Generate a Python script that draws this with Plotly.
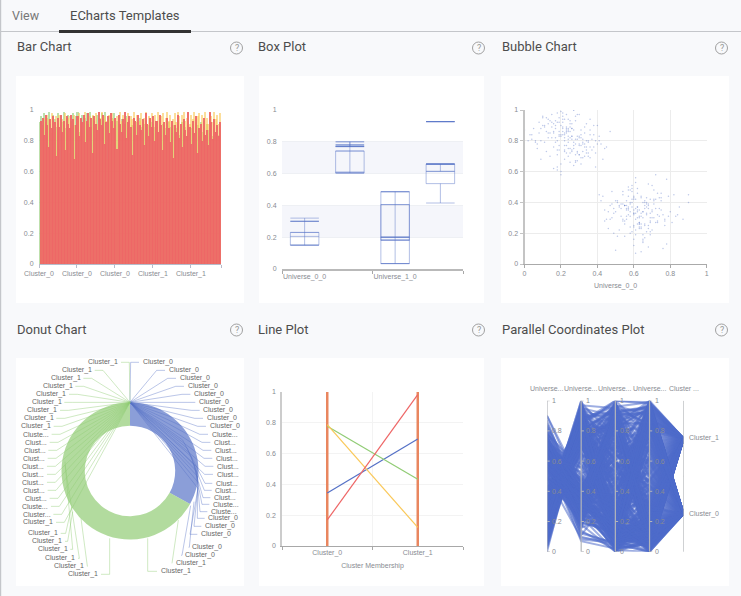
import plotly.graph_objects as go

W, H = 741, 596

# bar chart, sampled along the x axis
bar_labels = ["Cluster_0", "Cluster_0", "Cluster_0", "Cluster_1", "Cluster_1", ""]
bar_red = [0.00, 0.93, 0.95, 0.84, 0.97, 0.90, 0.76, 0.94, 0.88, 0.96, 0.92, 0.70, 0.95, 0.89, 0.97, 0.86, 0.93, 0.74, 0.96, 0.91,
           0.88, 0.97, 0.94, 0.68, 0.90, 0.96, 0.83, 0.95, 0.92, 0.97, 0.79, 0.93, 0.98, 0.89, 0.95, 0.72, 0.96, 0.91, 0.87, 0.99,
           0.94, 0.90, 0.97, 0.78, 0.92, 0.96, 0.85, 0.98, 0.93, 0.88, 0.95, 0.75, 0.97, 0.91, 0.86, 0.94, 0.99, 0.82, 0.92, 0.96,
           0.89, 0.71, 0.95, 0.93, 0.84, 0.97, 0.90, 0.87, 0.94, 0.77, 0.98, 0.91, 0.83, 0.95, 0.89, 0.96, 0.80, 0.93, 0.86, 0.97,
           0.90, 0.74, 0.92, 0.84, 0.95, 0.88, 0.79, 0.93, 0.69, 0.90, 0.86, 0.97, 0.82, 0.91, 0.76, 0.94, 0.87, 0.83, 0.99, 0.89,
           0.78, 0.93, 0.85, 0.96, 0.72, 0.88, 0.91, 0.80, 0.95, 0.84, 0.87, 0.77, 0.99, 0.92, 0.81, 0.94, 0.86, 0.90, 0.83, 0.92]
bar_yellow = [0.00, 0.90, 0.88, 0.95, 0.92, 0.97, 0.94, 0.89, 0.98, 0.93, 0.86, 0.96, 0.91, 0.97, 0.66, 0.94, 0.90, 0.98, 0.87, 0.95,
              0.96, 0.92, 0.89, 0.97, 0.70, 0.93, 0.98, 0.90, 0.85, 0.95, 0.99, 0.92, 0.88, 0.96, 0.74, 0.97, 0.93, 0.98, 0.91, 0.86,
              0.95, 0.99, 0.89, 0.96, 0.93, 0.68, 0.97, 0.92, 0.98, 0.94, 0.90, 0.96, 0.86, 0.99, 0.93, 0.97, 0.91, 0.95, 0.98, 0.88,
              0.96, 0.94, 0.99, 0.90, 0.97, 0.84, 0.93, 0.98, 0.92, 0.95, 0.99, 0.87, 0.96, 0.94, 0.98, 0.91, 0.97, 0.89, 0.99, 0.93,
              0.96, 0.98, 0.90, 0.95, 0.99, 0.93, 0.97, 0.88, 0.94, 0.98, 0.92, 0.99, 0.96, 0.90, 0.97, 0.99, 0.93, 0.95, 0.98, 0.91,
              0.97, 0.94, 0.99, 0.92, 0.96, 0.98, 0.89, 0.97, 0.93, 0.99, 0.95, 0.91, 0.98, 0.96, 0.92, 0.99, 0.94, 0.97, 0.91, 0.98]
bar_green = [0.92, 0.96, 0.90, 0.98, 0.87, 0.95, 0.99, 0.91, 0.85, 0.97, 0.94, 0.89, 0.98, 0.75, 0.96, 0.92, 0.99, 0.88, 0.95, 0.97,
             0.72, 0.93, 0.98, 0.90, 0.96, 0.99, 0.86, 0.94, 0.97, 0.80, 0.95, 0.98, 0.91, 0.99, 0.89, 0.96, 0.93, 0.82, 0.97, 0.95,
             0.90, 0.98, 0.94, 0.99, 0.87, 0.92, 0.96, 0.78, 0.95, 0.98, 0.88, 0.93, 0.97, 0.90, 0.94, 0.86, 0.91, 0.96, 0.88, 0.93,
             0.85, 0.90, 0.94, 0.87, 0.92, 0.83, 0.95, 0.89, 0.86, 0.91, 0.93, 0.84, 0.90, 0.87, 0.92, 0.85, 0.89, 0.93, 0.86, 0.90,
             0.84, 0.91, 0.87, 0.88, 0.83, 0.92, 0.89, 0.85, 0.90, 0.86, 0.88, 0.91, 0.84, 0.87, 0.92, 0.85, 0.89, 0.83, 0.90, 0.86,
             0.88, 0.91, 0.85, 0.87, 0.90, 0.83, 0.92, 0.86, 0.89, 0.84, 0.91, 0.87, 0.85, 0.90, 0.83, 0.88, 0.86, 0.89, 0.84, 0.87]

# box plot
box_positions = [0, 1, 2, 3]
box_low = [0.15, 0.604, 0.034, 0.415]
box_q1 = [0.15, 0.604, 0.034, 0.537]
box_med = [0.205, 0.604, 0.20, 0.614]
box_q3 = [0.23, 0.742, 0.486, 0.66]
box_high = [0.23, 0.742, 0.486, 0.66]
box2_low = [0.15, 0.604, 0.034, 0.927]
box2_q1 = [0.30, 0.77, 0.18, 0.927]
box2_med = [0.30, 0.77, 0.18, 0.927]
box2_q3 = [0.30, 0.77, 0.405, 0.927]
box2_high = [0.32, 0.80, 0.486, 0.927]
box3_positions = [1, 2, 3]
box3_low = [0.77, 0.18, 0.614]
box3_mid = [0.78, 0.20, 0.66]
box3_high = [0.80, 0.405, 0.66]

# universe coordinates of the points, first group then second group
u0 = [0.21, 0.34, 0.12, 0.27, 0.19, 0.31, 0.05, 0.24, 0.38, 0.16, 0.29, 0.22, 0.09, 0.33, 0.26, 0.18, 0.41, 0.23, 0.14, 0.30,
      0.20, 0.36, 0.07, 0.25, 0.17, 0.28, 0.44, 0.11, 0.32, 0.22, 0.02, 0.27, 0.19, 0.35, 0.24, 0.13, 0.39, 0.21, 0.30, 0.16,
      0.26, 0.08, 0.33, 0.23, 0.18, 0.29, 0.42, 0.20, 0.15, 0.37, 0.25, 0.10, 0.31, 0.22, 0.04, 0.28, 0.19, 0.34, 0.24, 0.12,
      0.40, 0.27, 0.17, 0.21, 0.32, 0.06, 0.26, 0.36, 0.14, 0.23, 0.30, 0.20, 0.47, 0.18, 0.28, 0.09, 0.33, 0.25, 0.16, 0.38,
      0.22, 0.11, 0.29, 0.24, 0.00, 0.35, 0.19, 0.31, 0.13, 0.27, 0.43, 0.21, 0.17, 0.26, 0.07, 0.34, 0.23, 0.15, 0.30, 0.20,
      0.39, 0.25, 0.10, 0.28, 0.18, 0.32, 0.03, 0.22, 0.36, 0.24,
      0.60, 0.71, 0.55, 0.66, 0.48, 0.63, 0.77, 0.58, 0.69, 0.52, 0.64, 0.74, 0.61, 0.45, 0.67, 0.57, 0.80, 0.62, 0.50, 0.70,
      0.59, 0.65, 0.90, 0.54, 0.72, 0.60, 0.47, 0.68, 0.63, 0.56, 0.75, 0.61, 0.51, 0.66, 0.83, 0.58, 0.64, 0.42, 0.70, 0.60,
      0.53, 0.73, 0.62, 0.49, 0.67, 0.57, 0.78, 0.63, 0.55, 0.69, 0.44, 0.65, 0.60, 0.76, 0.52, 0.68, 0.59, 0.87, 0.61, 0.56,
      0.71, 0.64, 0.46, 0.66, 0.58, 0.74, 0.54, 0.62, 0.81, 0.50, 0.67, 0.60, 0.72, 0.48, 0.63, 0.57, 0.69, 0.41, 0.65, 0.55,
      0.77, 0.61, 0.53, 0.70, 0.59, 0.84, 0.64, 0.51, 0.66, 0.58, 0.73, 0.47, 0.62, 0.68, 0.56, 0.79, 0.60, 0.43, 0.67, 0.54,
      0.65, 0.75, 0.57, 0.90, 0.63, 0.49, 0.71, 0.61, 0.55, 0.69,
      0.23, 0.28, 0.15, 0.32, 0.19, 0.25, 0.36, 0.11, 0.21, 0.30, 0.26, 0.17, 0.34, 0.22, 0.06, 0.29, 0.24, 0.38, 0.13, 0.20,
      0.27, 0.33, 0.18, 0.23, 0.41, 0.16, 0.25, 0.31, 0.09, 0.22, 0.28, 0.35, 0.19, 0.24, 0.14, 0.30, 0.21, 0.37, 0.26, 0.12,
      0.23, 0.29, 0.17, 0.33, 0.20, 0.45, 0.25, 0.08, 0.31, 0.22, 0.27, 0.15, 0.35, 0.24, 0.18, 0.30, 0.40, 0.21, 0.13, 0.26,
      0.32, 0.19, 0.28, 0.23, 0.04, 0.36, 0.25, 0.16, 0.29, 0.22, 0.34, 0.20, 0.27, 0.10, 0.31, 0.24, 0.18, 0.39, 0.26, 0.21,
      0.62, 0.58, 0.69, 0.64, 0.53, 0.72, 0.60, 0.66, 0.56, 0.75, 0.61, 0.49, 0.68, 0.63, 0.57, 0.70, 0.65, 0.78, 0.59, 0.54,
      0.67, 0.62, 0.73, 0.46, 0.60, 0.65, 0.55, 0.71, 0.63, 0.82, 0.58, 0.68, 0.61, 0.51, 0.76, 0.64, 0.59, 0.69, 0.56, 0.66,
      0.62, 0.74, 0.48, 0.60, 0.67, 0.57, 0.85, 0.63, 0.70, 0.54, 0.65, 0.59, 0.72, 0.61, 0.44, 0.68, 0.56, 0.64, 0.79, 0.60,
      0.66, 0.52, 0.71, 0.62, 0.58, 0.75, 0.63, 0.69, 0.55, 0.67, 0.60, 0.73, 0.50, 0.65, 0.61, 0.77, 0.57, 0.68, 0.64, 0.59]
u1 = [0.84, 0.91, 0.73, 0.79, 0.95, 0.82, 0.88, 0.70, 0.76, 0.86, 0.97, 0.80, 0.68, 0.89, 0.74, 0.92, 0.83, 0.77, 0.85, 0.71,
      0.99, 0.87, 0.78, 0.66, 0.93, 0.81, 0.75, 0.90, 0.69, 0.84, 0.80, 1.00, 0.86, 0.72, 0.79, 0.94, 0.63, 0.88, 0.82, 0.76,
      0.91, 0.85, 0.70, 0.97, 0.74, 0.83, 0.78, 0.60, 0.89, 0.81, 0.72, 0.95, 0.87, 0.77, 0.84, 0.67, 0.92, 0.80, 0.75, 0.86,
      0.90, 0.64, 0.82, 0.98, 0.73, 0.79, 0.88, 0.69, 0.93, 0.85, 0.78, 0.83, 0.86, 0.71, 0.96, 0.80, 0.76, 0.91, 0.62, 0.84,
      0.74, 0.89, 0.81, 0.94, 0.87, 0.70, 0.77, 0.65, 0.85, 1.00, 0.68, 0.92, 0.79, 0.83, 0.75, 0.72, 0.88, 0.82, 0.97, 0.58,
      0.80, 0.86, 0.90, 0.66, 0.61, 0.78, 0.84, 0.73, 0.94, 0.81,
      0.35, 0.42, 0.28, 0.38, 0.47, 0.31, 0.25, 0.40, 0.33, 0.22, 0.44, 0.36, 0.19, 0.29, 0.39, 0.50, 0.34, 0.26, 0.41, 0.30,
      0.37, 0.15, 0.40, 0.45, 0.27, 0.32, 0.38, 0.52, 0.23, 0.35, 0.43, 0.29, 0.18, 0.36, 0.31, 0.48, 0.24, 0.41, 0.34, 0.12,
      0.39, 0.28, 0.46, 0.33, 0.21, 0.37, 0.55, 0.30, 0.26, 0.42, 0.35, 0.16, 0.44, 0.32, 0.38, 0.25, 0.49, 0.29, 0.07, 0.36,
      0.41, 0.23, 0.34, 0.40, 0.20, 0.31, 0.47, 0.37, 0.27, 0.09, 0.43, 0.33, 0.58, 0.39, 0.24, 0.35, 0.30, 0.45, 0.14, 0.38,
      0.28, 0.42, 0.36, 0.22, 0.51, 0.32, 0.26, 0.40, 0.17, 0.34, 0.46, 0.29, 0.37, 0.11, 0.41, 0.31, 0.25, 0.44, 0.33, 0.39,
      0.19, 0.35, 0.48, 0.45, 0.27, 0.36, 0.30, 0.53, 0.38, 0.21,
      0.86, 0.78, 0.92, 0.81, 0.74, 0.89, 0.84, 0.79, 0.96, 0.71, 0.83, 0.88, 0.76, 0.94, 0.80, 0.73, 0.87, 0.90, 0.82, 0.65,
      0.77, 0.85, 0.98, 0.72, 0.80, 0.91, 0.75, 0.84, 0.88, 0.68, 0.93, 0.79, 0.83, 0.86, 0.70, 0.77, 0.89, 0.74, 0.81, 0.95,
      0.87, 0.72, 0.90, 0.78, 0.84, 0.76, 0.82, 0.92, 0.69, 0.85, 0.75, 0.97, 0.80, 0.88, 0.63, 0.83, 0.78, 0.86, 0.91, 0.73,
      0.79, 0.84, 0.71, 0.89, 0.81, 0.76, 0.93, 0.85, 0.67, 0.82, 0.74, 0.90, 0.87, 0.96, 0.77, 0.83, 0.80, 0.72, 0.88, 0.94,
      0.34, 0.39, 0.27, 0.43, 0.31, 0.36, 0.24, 0.41, 0.29, 0.46, 0.33, 0.20, 0.38, 0.26, 0.44, 0.35, 0.30, 0.13, 0.40, 0.28,
      0.37, 0.49, 0.32, 0.23, 0.42, 0.34, 0.18, 0.39, 0.27, 0.45, 0.31, 0.36, 0.22, 0.41, 0.10, 0.33, 0.47, 0.28, 0.38, 0.25,
      0.35, 0.43, 0.30, 0.16, 0.40, 0.32, 0.37, 0.26, 0.51, 0.29, 0.34, 0.21, 0.42, 0.36, 0.28, 0.39, 0.31, 0.08, 0.44, 0.33,
      0.26, 0.37, 0.48, 0.30, 0.24, 0.41, 0.35, 0.19, 0.38, 0.32, 0.43, 0.27, 0.34, 0.40, 0.56, 0.29, 0.36, 0.23, 0.31, 0.42]
u2 = [0.52, 0.17, 0.88, 0.33, 0.64, 0.05, 0.76, 0.41, 0.97, 0.23, 0.58, 0.12, 0.69, 0.36, 0.83, 0.47, 1.00, 0.28, 0.61, 0.09,
      0.74, 0.39, 0.92, 0.19, 0.55, 0.02, 0.67, 0.44, 0.80, 0.31, 0.95, 0.14, 0.50, 0.72, 0.26, 0.86, 0.07, 0.60, 0.38, 0.78,
      0.21, 0.99, 0.46, 0.65, 0.11, 0.57, 0.84, 0.34, 0.71, 0.00, 0.49, 0.90, 0.24, 0.62, 0.16, 0.81, 0.42, 0.96, 0.30, 0.68,
      0.06, 0.54, 0.77, 0.37, 0.87, 0.20, 0.59, 0.93, 0.13, 0.45, 0.70, 0.27, 1.00, 0.51, 0.03, 0.63, 0.85, 0.35, 0.75, 0.18,
      0.56, 0.91, 0.40, 0.08, 0.66, 0.29, 0.82, 0.48, 0.98, 0.22, 0.53, 0.73, 0.10, 0.43, 0.89, 0.32, 0.61, 0.01, 0.79, 0.25,
      0.94, 0.47, 0.15, 0.68, 0.36, 0.86, 0.04, 0.57, 0.76, 0.30,
      0.44, 0.83, 0.19, 0.62, 0.98, 0.35, 0.71, 0.08, 0.53, 0.90, 0.26, 0.66, 0.13, 0.79, 0.41, 0.99, 0.22, 0.58, 0.03, 0.74,
      0.32, 0.87, 0.49, 0.16, 0.69, 0.93, 0.38, 0.60, 0.00, 0.81, 0.28, 0.55, 0.95, 0.11, 0.72, 0.43, 0.85, 0.21, 0.64, 0.06,
      0.51, 0.91, 0.34, 0.77, 0.18, 0.59, 1.00, 0.25, 0.68, 0.09, 0.46, 0.82, 0.30, 0.63, 0.14, 0.96, 0.39, 0.73, 0.02, 0.56,
      0.88, 0.24, 0.67, 0.42, 0.12, 0.78, 0.33, 0.94, 0.50, 0.07, 0.61, 0.84, 0.20, 0.70, 0.37, 0.97, 0.27, 0.54, 0.01, 0.75,
      0.45, 0.89, 0.17, 0.65, 0.31, 0.80, 0.05, 0.57, 0.92, 0.23, 0.48, 0.76, 0.10, 0.40, 0.86, 0.29, 0.60, 0.04, 0.99, 0.52,
      0.15, 0.72, 0.36, 0.83, 0.47, 0.19, 0.66, 0.94, 0.26, 0.58,
      0.08, 0.14, 0.03, 0.21, 0.11, 0.92, 0.06, 0.17, 0.01, 0.25, 0.12, 0.96, 0.05, 0.19, 0.09, 0.87, 0.15, 0.02, 0.23, 0.10,
      0.07, 0.30, 0.13, 0.04, 0.94, 0.18, 0.00, 0.27, 0.11, 0.89, 0.06, 0.16, 0.22, 0.03, 0.98, 0.12, 0.35, 0.08, 0.20, 0.05,
      0.14, 0.85, 0.01, 0.24, 0.10, 0.91, 0.17, 0.07, 0.29, 0.02, 0.13, 0.95, 0.09, 0.19, 0.04, 0.82, 0.26, 0.06, 0.15, 0.11,
      0.03, 0.33, 0.97, 0.08, 0.21, 0.00, 0.12, 0.88, 0.18, 0.05, 0.10, 0.93, 0.16, 0.02, 0.28, 0.07, 0.84, 0.13, 0.23, 0.09,
      0.04, 0.90, 0.20, 0.11, 0.01, 0.31, 0.86, 0.06, 0.17, 0.14, 0.08, 0.99, 0.25, 0.03, 0.12, 0.83, 0.19, 0.05, 0.37, 0.10,
      0.02, 0.15, 0.92, 0.07, 0.22, 0.13, 0.00, 0.89, 0.18, 0.09, 0.27, 0.06, 0.94, 0.11, 0.04, 0.16, 0.81, 0.20, 0.08, 0.32,
      0.12, 0.01, 0.87, 0.24, 0.05, 0.14, 0.96, 0.10, 0.03, 0.19, 0.07, 0.91, 0.29, 0.13, 0.02, 0.84, 0.17, 0.06, 0.23, 0.11,
      0.15, 0.98, 0.04, 0.21, 0.09, 0.80, 0.00, 0.34, 0.12, 0.08, 0.18, 0.93, 0.05, 0.26, 0.14, 0.02, 0.88, 0.10, 0.20, 0.07]
u3 = [0.03, 0.71, 0.26, 0.90, 0.47, 0.00, 0.62, 0.15, 0.83, 0.38, 0.55, 0.08, 0.97, 0.30, 0.68, 0.02, 0.79, 0.43, 0.19, 0.92,
      0.51, 0.06, 0.74, 0.34, 0.87, 0.12, 0.60, 0.99, 0.23, 0.45, 0.01, 0.81, 0.36, 0.66, 0.10, 0.94, 0.49, 0.17, 0.76, 0.28,
      0.58, 0.04, 0.89, 0.40, 0.70, 0.21, 1.00, 0.53, 0.13, 0.84, 0.32, 0.64, 0.00, 0.78, 0.42, 0.96, 0.25, 0.56, 0.09, 0.86,
      0.37, 0.73, 0.05, 0.61, 0.18, 0.91, 0.46, 0.29, 0.80, 0.02, 0.67, 0.35, 0.98, 0.52, 0.14, 0.75, 0.07, 0.44, 0.88, 0.24,
      0.59, 0.01, 0.83, 0.33, 0.69, 0.11, 0.95, 0.48, 0.20, 0.77, 0.39, 0.03, 0.63, 0.27, 0.93, 0.54, 0.16, 0.72, 0.00, 0.41,
      0.85, 0.31, 0.57, 0.06, 0.99, 0.22, 0.65, 0.47, 0.04, 0.82,
      0.97, 0.36, 0.74, 0.12, 0.59, 1.00, 0.28, 0.85, 0.44, 0.06, 0.68, 0.98, 0.21, 0.53, 0.90, 0.33, 0.77, 0.15, 0.99, 0.41,
      0.63, 0.02, 0.86, 0.30, 0.72, 0.96, 0.18, 0.50, 0.08, 0.81, 1.00, 0.38, 0.66, 0.24, 0.92, 0.47, 0.11, 0.75, 0.97, 0.34,
      0.57, 0.01, 0.88, 0.26, 0.69, 0.43, 0.99, 0.16, 0.79, 0.52, 0.04, 0.94, 0.31, 0.61, 0.20, 0.84, 1.00, 0.40, 0.73, 0.10,
      0.55, 0.91, 0.27, 0.65, 0.98, 0.14, 0.48, 0.80, 0.35, 0.07, 0.70, 0.95, 0.23, 0.58, 0.87, 0.42, 0.00, 0.76, 0.99, 0.32,
      0.62, 0.17, 0.89, 0.46, 0.03, 0.83, 0.29, 0.67, 0.96, 0.13, 0.54, 0.78, 1.00, 0.37, 0.09, 0.71, 0.93, 0.25, 0.49, 0.85,
      0.60, 0.19, 0.98, 0.39, 0.74, 0.05, 0.82, 0.44, 0.97, 0.22,
      0.05, 0.88, 0.12, 0.02, 0.24, 0.95, 0.09, 0.17, 0.00, 0.83, 0.15, 0.04, 0.91, 0.21, 0.07, 0.30, 0.98, 0.11, 0.03, 0.86,
      0.19, 0.06, 0.93, 0.13, 0.26, 0.01, 0.80, 0.16, 0.08, 0.97, 0.10, 0.35, 0.02, 0.89, 0.18, 0.05, 0.94, 0.23, 0.12, 0.00,
      0.07, 0.85, 0.28, 0.14, 0.03, 0.92, 0.09, 0.20, 0.99, 0.06, 0.17, 0.01, 0.87, 0.11, 0.31, 0.04, 0.96, 0.15, 0.08, 0.82,
      0.22, 0.02, 0.90, 0.13, 0.06, 0.27, 0.84, 0.10, 0.00, 0.95, 0.18, 0.05, 0.88, 0.33, 0.09, 0.12, 0.97, 0.03, 0.25, 0.07,
      0.93, 0.14, 0.04, 0.81, 0.19, 0.08, 0.98, 0.11, 0.02, 0.86, 0.16, 0.29, 0.06, 0.92, 0.10, 0.03, 0.85, 0.21, 0.13, 0.99,
      0.05, 0.89, 0.17, 0.00, 0.95, 0.08, 0.24, 0.12, 0.90, 0.04, 0.83, 0.15, 0.07, 0.96, 0.20, 0.02, 0.87, 0.11, 0.30, 0.06,
      0.94, 0.09, 0.18, 0.03, 0.80, 0.13, 0.99, 0.05, 0.26, 0.10, 0.01, 0.91, 0.14, 0.22, 0.07, 0.86, 0.16, 0.04, 0.97, 0.12,
      0.28, 0.08, 0.84, 0.02, 0.19, 0.93, 0.06, 0.11, 0.88, 0.15, 0.00, 0.95, 0.23, 0.09, 0.82, 0.05, 0.17, 0.98, 0.03, 0.13]
cluster_y = {"Cluster_0": 0.25, "Cluster_1": 0.75}
membership = ["Cluster_1"] * 110 + ["Cluster_0"] * 110 + ["Cluster_1"] * 80 + ["Cluster_0"] * 80

# donut
donut_labels = ["Cluster_0", "Cluster_1"]
donut_values = [33, 67]

# line plot
line_categories = ["Cluster_0", "Cluster_1"]
line_blue = [0.344, 0.695]
line_green = [0.777, 0.433]
line_yellow = [0.788, 0.121]
line_red = [0.169, 0.983]
line_span = [0, 1]

# text of the parallel coordinates axes
par_heads = ["Universe...", "Universe...", "Universe...", "Universe...", "Cluster ..."]
par_ticks = [0, 0.2, 0.4, 0.6, 0.8, 1]
tick_text = ["0", "0.2", "0.4", "0.6", "0.8", "1"]

# donut label layout, read in page pixels times three: (x, y)
right_labels = [("Cluster_0", 425, 142), ("Cluster_0", 503, 166), ("Cluster_0", 536, 190), ("Cluster_0", 560, 214),
                ("Cluster_0", 579, 238), ("Cluster_0", 594, 262), ("Cluster_0", 607, 286), ("Cluster_0", 617, 310),
                ("Cluster_0", 626, 334), ("Cluste...", 632, 358), ("Clust...", 639, 382), ("Clust...", 642, 406),
                ("Clust...", 645, 430), ("Clust...", 648, 454), ("Clust...", 647, 478)]
# these also go through a point on the ring: (text, x, y, ring x, ring y)
right_low_labels = [("Clust...", 645, 505, 548, 375), ("Clust...", 643, 526, 562, 400), ("Clust...", 639, 548, 574, 425),
                    ("Cluste...", 636, 568, 583, 450), ("Cluste...", 630, 590, 589, 468), ("Cluster_0", 622, 610, 593, 485),
                    ("Cluster_0", 612, 634, 595, 503), ("Cluster_0", 600, 658, 594, 520)]
left_labels = [("Cluster_1", 355, 142), ("Cluster_1", 276, 166), ("Cluster_1", 242, 190), ("Cluster_1", 218, 214),
               ("Cluster_1", 199, 238), ("Cluster_1", 185, 262), ("Cluster_1", 172, 286), ("Cluster_1", 161, 310),
               ("Cluster_1", 153, 334), ("Cluste...", 147, 358), ("Clust...", 141, 382), ("Clust...", 137, 406),
               ("Clust...", 135, 430), ("Clust...", 133, 454), ("Clust...", 133, 478), ("Clust...", 133, 502),
               ("Clust...", 135, 526), ("Clust...", 141, 550), ("Cluste...", 145, 574), ("Cluster...", 152, 598),
               ("Cluster_1", 160, 622)]
# (text, anchor, text x, text y, line start x, start y, elbow x, end x)
bottom_labels = [("Cluster_1", "right", 174, 655, 215, 575, 197, 182), ("Cluster_1", "right", 187, 679, 218, 590, 203, 195),
                 ("Cluster_1", "right", 203, 703, 195, 440, 218, 211), ("Cluster_1", "right", 226, 730, 195, 450, 238, 234),
                 ("Cluster_1", "right", 253, 754, 243, 610, 262, 261), ("Cluster_1", "right", 295, 778, 329, 670, 329, 303),
                 ("Cluster_0", "left", 574, 697, 582, 560, 568, 566), ("Cluster_0", "left", 552, 721, 572, 572, 546, 544),
                 ("Cluster_1", "left", 524, 745, 535, 615, 516, 516), ("Cluster_1", "left", 479, 769, 443, 670, 443, 471)]

BLUE = "#5470c6"
GREEN = "#91cc75"
YELLOW = "#fac858"
RED = "#ee6666"
TICK = "#888b92"
FONT = "Liberation Sans"


def fx(v):
    return v / W


def fy(v):
    return 1 - v / H


def dom(x0, x1, y0, y1):
    return dict(x=[fx(x0), fx(x1)], y=[fy(y1), fy(y0)])


shapes = []
notes = []


def text(x, y, s, size=7, color="#666", anchor="left", font=FONT):
    notes.append(dict(x=fx(x), y=fy(y), xref="paper", yref="paper", text=s, showarrow=False,
                      xanchor=anchor, yanchor="middle", borderpad=0, font=dict(size=size, color=color, family=font)))


def rect(x0, y0, x1, y1, fill):
    shapes.append(dict(type="rect", xref="paper", yref="paper", x0=fx(x0), x1=fx(x1), y0=fy(y0), y1=fy(y1),
                       fillcolor=fill, line=dict(width=0), layer="below"))


def path(points, color, width=0.8):
    d = "M " + " L ".join("%.4f,%.4f" % (fx(x), fy(y)) for x, y in points)
    shapes.append(dict(type="path", xref="paper", yref="paper", path=d, line=dict(color=color, width=width), layer="above"))


# page frame and tabs
rect(0, 0, 1.2, H, "#c4c6ca")
rect(0, 31, W, 32, "#c4c6ca")
rect(59, 30, 191, 33, "#333333")
text(10.5, 16, "View", 12.5, "#777", font="Roboto")
text(69, 16, "ECharts Templates", 13, "#4d4d4d", font="Roboto")

cards = [(16, 244, 76, 303), (259, 484, 76, 303), (501, 729, 76, 303),
         (16, 244, 358, 586), (259, 484, 358, 586), (501, 729, 358, 586)]
titles = ["Bar Chart", "Box Plot", "Bubble Chart", "Donut Chart", "Line Plot", "Parallel Coordinates Plot"]
title_x = [15.5, 257, 500.5, 15.5, 257, 500.5]
helps = [236.5, 478.5, 721.5, 236.5, 478.5, 721.5]
for c, t, tx, h in zip(cards, titles, title_x, helps):
    rect(c[0], c[2], c[1], c[3], "white")
    top = c[2] - 29
    text(tx, top, t, 13, "#4d4d4d", font="Roboto")
    shapes.append(dict(type="circle", xref="paper", yref="paper", x0=fx(h - 6), x1=fx(h + 6), y0=fy(top + 7), y1=fy(top - 5),
                       line=dict(color="#a0a0a0", width=1), layer="below"))
    text(h, top + 1, "?", 9, "#999", anchor="center", font="Roboto")

fig = go.Figure()

# bar chart
bar_x = list(range(len(bar_red)))
for vals, col, op in [(bar_green, GREEN, 0.6), (bar_yellow, YELLOW, 0.6), (bar_red, RED, 0.92)]:
    fig.add_bar(x=bar_x, y=vals, width=1, offset=0, marker=dict(color=col, opacity=op, line=dict(width=0)),
                xaxis="x", yaxis="y", showlegend=False)

# box plot
for lo, hi in [(0.2, 0.4), (0.6, 0.8)]:
    shapes.append(dict(type="rect", xref="x2 domain", yref="y2", x0=0, x1=1, y0=lo, y1=hi,
                       fillcolor="#f5f6fb", line=dict(width=0), layer="below"))
box_style = dict(width=0.63, whiskerwidth=1, line=dict(color="rgba(84,112,198,0.45)", width=1),
                 fillcolor="rgba(0,0,0,0)", xaxis="x2", yaxis="y2", showlegend=False)
fig.add_box(x=box_positions, lowerfence=box_low, q1=box_q1, median=box_med, q3=box_q3, upperfence=box_high, **box_style)
fig.add_box(x=box_positions, lowerfence=box2_low, q1=box2_q1, median=box2_med, q3=box2_q3, upperfence=box2_high, **box_style)
fig.add_box(x=box3_positions, lowerfence=box3_low, q1=box3_mid, median=box3_mid, q3=box3_mid, upperfence=box3_high, **box_style)

# bubble chart
fig.add_scatter(x=u0, y=u1, mode="markers", marker=dict(size=1.5, color="rgba(84,112,198,0.38)", line=dict(width=0)),
                xaxis="x3", yaxis="y3", showlegend=False)

# donut chart
fig.add_pie(labels=donut_labels, values=donut_values, hole=0.66, sort=False, direction="clockwise", rotation=0,
            textinfo="none", marker=dict(colors=["rgba(84,112,198,0.68)", "rgba(145,204,117,0.7)"], line=dict(width=0)),
            domain=dom(61.5, 198.5, 402, 540), showlegend=False)

apex = (390, 262)
LG = "rgba(145,204,117,0.55)"
LB = "rgba(84,112,198,0.5)"


def z(x, y):
    return (x / 3, 315 + y / 3)


for s, x, y in right_labels:
    text(x / 3, 315 + y / 3, s)
    path([z(*apex), z(max(x - 33, 390), y), z(x - 8, y)], LB)
for s, x, y, rx, ry in right_low_labels:
    text(x / 3, 315 + y / 3, s)
    path([z(*apex), z(rx, ry), z(x - 30, y), z(x - 8, y)], LB)
for s, x, y in left_labels:
    text(x / 3 + 1, 315 + y / 3, s, anchor="right")
    path([z(*apex), z(min(x + 33, 390), y), z(x + 8, y)], LG)
for s, anchor, x, y, sx, sy, ex, tx in bottom_labels:
    text(x / 3 + (1 if anchor == "right" else 0), 315 + y / 3, s, anchor=anchor)
    path([z(sx, sy), z(ex, y), z(tx, y)], LB if s == "Cluster_0" else LG)

# line plot
for cat in line_categories:
    fig.add_scatter(x=[cat, cat], y=line_span, mode="lines", line=dict(color="#e9865f", width=2.5),
                    xaxis="x5", yaxis="y5", showlegend=False)
for vals, col in [(line_blue, BLUE), (line_green, GREEN), (line_yellow, YELLOW), (line_red, RED)]:
    fig.add_scatter(x=line_categories, y=vals, mode="lines", line=dict(color=col, width=1.2),
                    xaxis="x5", yaxis="y5", showlegend=False)

# parallel coordinates, one line per record
for i in range(len(u0)):
    fig.add_scatter(x=[0, 1, 2, 3, 4], y=[u0[i], u1[i], u2[i], u3[i], cluster_y[membership[i]]], mode="lines",
                    line=dict(color="rgba(78,108,202,0.55)", width=2), xaxis="x6", yaxis="y6",
                    showlegend=False, hoverinfo="skip")
axis_gray = "#b4b6ba"
for k in range(5):
    shapes.append(dict(type="line", xref="x6", yref="y6", x0=k, x1=k, y0=0, y1=1, line=dict(color=axis_gray, width=1.2), layer="above"))
    notes.append(dict(x=k, y=1, xref="x6", yref="y6", text=par_heads[k], showarrow=False, yshift=12,
                      font=dict(size=7, color=TICK, family=FONT)))
    ticks = par_ticks if k < 4 else [0, 0.5, 1]
    for t in ticks:
        shapes.append(dict(type="line", xref="x6", yref="y6", x0=k, x1=k + 0.08, y0=t, y1=t, line=dict(color=axis_gray, width=1), layer="above"))
        if k < 4:
            notes.append(dict(x=k, y=t, xref="x6", yref="y6", text=str(t), showarrow=False, xanchor="left", xshift=3,
                              font=dict(size=7, color=TICK, family=FONT)))
for name, pos in cluster_y.items():
    notes.append(dict(x=4, y=pos, xref="x6", yref="y6", text=name, showarrow=False, xanchor="left", xshift=3,
                      font=dict(size=7, color=TICK, family=FONT)))

tickfont = dict(size=7, color=TICK, family=FONT)
y_common = dict(range=[0, 1], tickvals=par_ticks, ticktext=tick_text, tickfont=tickfont, gridcolor="#eef0f4", gridwidth=1,
                zeroline=False, ticks="outside", ticklen=3, tickcolor="rgba(0,0,0,0)", showline=False)


def xdom(a, b):
    return [fx(a), fx(b)]


def ydom(top, bottom):
    return [fy(bottom), fy(top)]


fig.update_layout(
    width=W, height=H, margin=dict(l=0, r=0, t=0, b=0), paper_bgcolor="#f8f9fb", plot_bgcolor="rgba(0,0,0,0)",
    barmode="overlay", boxmode="overlay", bargap=0, showlegend=False, shapes=shapes, annotations=notes,
    xaxis=dict(domain=xdom(39, 221.3), range=[0, 120], tickvals=[0, 25, 50, 75, 100, 120], ticktext=bar_labels,
               tickfont=tickfont, ticks="outside", ticklen=3, tickcolor="#b6bccb", showline=True, linecolor="#b6bccb",
               showgrid=False, zeroline=False),
    yaxis=dict(domain=ydom(110, 264), anchor="x", **y_common),
    xaxis2=dict(domain=xdom(282, 463), range=[-0.5, 3.5], anchor="y2", tickvals=[0, 2], ticktext=["Universe_0_0", "Universe_1_0"],
                tickfont=tickfont, ticks="", showline=True, linecolor="#b9b9b9", linewidth=1.5, showgrid=False, zeroline=False,
                minor=dict(tickvals=[-0.5, 1.5, 3.5], ticks="outside", ticklen=3, tickcolor="#a8a8a8", showgrid=False)),
    yaxis2=dict(domain=ydom(110, 269), anchor="x2", **y_common),
    xaxis3=dict(domain=xdom(524.5, 706.7), range=[0, 1], anchor="y3", tickvals=par_ticks, ticktext=tick_text,
                tickfont=tickfont, gridcolor="#ececec", gridwidth=1.2, zeroline=False, showline=True, linecolor="#aaaaaa",
                ticks="outside", ticklen=3, tickcolor="#aaaaaa", title=dict(text="Universe_0_0", font=tickfont, standoff=6)),
    yaxis3=dict(domain=ydom(110, 264), anchor="x3", range=[0, 1], tickvals=par_ticks, ticktext=tick_text,
                tickfont=tickfont, gridcolor="#ececec", gridwidth=1.2, zeroline=False, showline=True, linecolor="#c4c4c4", linewidth=2,
                ticks="outside", ticklen=3, tickcolor="#c4c4c4"),
    xaxis5=dict(domain=xdom(282, 463), range=[-0.5, 1.5], anchor="y5", type="category", categoryorder="array",
                categoryarray=line_categories, tickson="boundaries", ticks="outside", ticklen=3, tickcolor="#a8a8a8",
                tickfont=tickfont, showline=True, linecolor="#a8a8a8", gridcolor="#f3f3f3", zeroline=False,
                title=dict(text="Cluster Membership", font=tickfont, standoff=6)),
    yaxis5=dict(domain=ydom(392, 546), anchor="x5", range=[0, 1], tickvals=par_ticks, ticktext=tick_text,
                tickfont=tickfont, gridcolor="#f3f3f3", zeroline=False, ticks="outside", ticklen=3, tickcolor="rgba(0,0,0,0)",
                showline=True, linecolor="#cccccc", linewidth=1.5),
    xaxis6=dict(domain=xdom(547, 683.7), range=[0, 4], anchor="y6", visible=False),
    yaxis6=dict(domain=ydom(400.7, 551.7), range=[0, 1], anchor="x6", visible=False),
)
fig.update_xaxes(automargin=False)
fig.update_yaxes(automargin=False)

fig.write_html("out.html", config=dict(displayModeBar=False), post_script="document.body.style.margin='0';")
